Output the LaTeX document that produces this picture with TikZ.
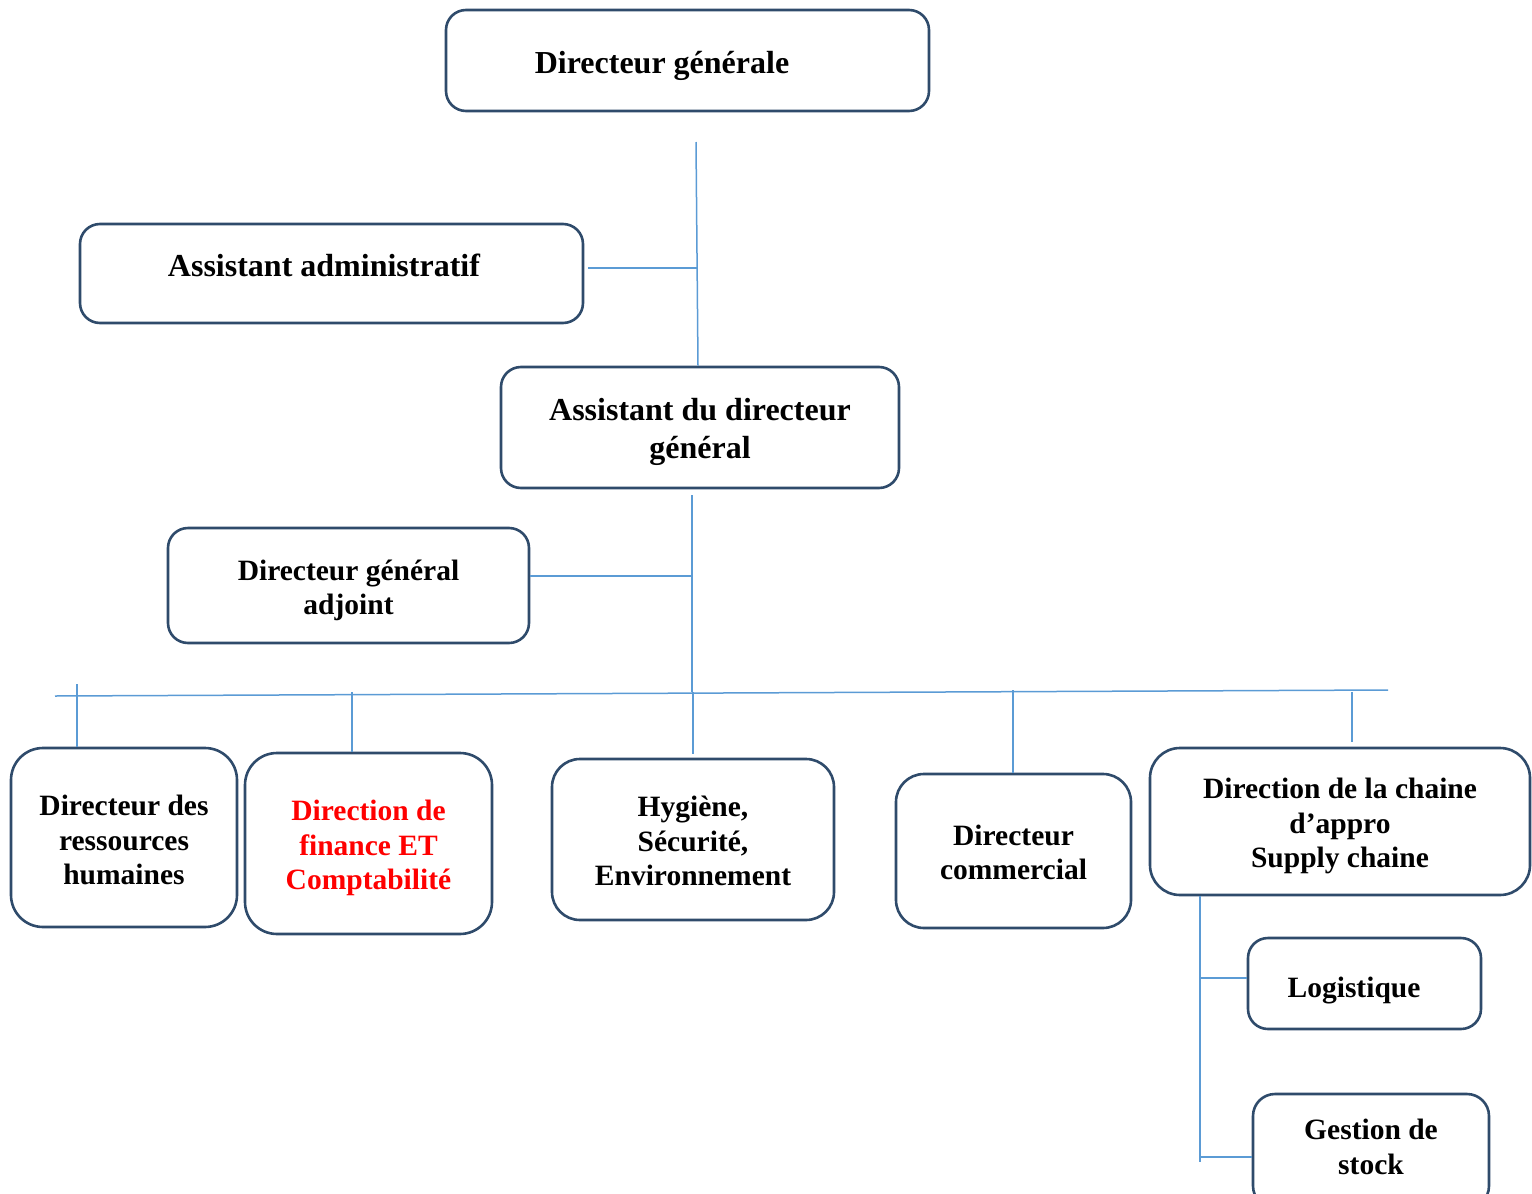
\documentclass[tikz,border=0pt]{standalone}
\usepackage{fontspec}
\setmainfont{Liberation Serif}
\definecolor{boxc}{HTML}{2F4B6B}
\definecolor{linec}{HTML}{5B9BD5}
\begin{document}
\begin{tikzpicture}[x=1pt,y=-1pt,
  box/.style={draw=boxc, line width=2.6pt, rounded corners=20pt, fill=white, inner sep=0pt},
  big/.style={inner sep=0pt, align=center, font=\bfseries\fontsize{32}{38}\selectfont},
  small/.style={inner sep=0pt, align=center, font=\bfseries\fontsize{29.5}{34.5}\selectfont},
  conn/.style={draw=linec, line width=1.5pt}]
\useasboundingbox (0,0) rectangle (1532,1194);
\clip (0,0) rectangle (1532,1194);

% boxes
\node[box, minimum width=483pt, minimum height=101pt] (dg) at (687.5,60.5) {};
\node[big] (dgt) at (662,66) {Directeur générale};

\node[box, minimum width=503pt, minimum height=99pt] (aa) at (331.5,273.5) {};
\node[big] (aat) at (324,265) {Assistant administratif};

\node[box, minimum width=398pt, minimum height=121pt] (adg) at (700,427.5) {};
\node[big] (adgt) at (700,432) {Assistant du directeur\\général};

\node[box, minimum width=361pt, minimum height=115pt] (dga) at (348.5,585.5) {};
\node[small] (dgat) at (348.5,590.5) {Directeur général\\adjoint};

\node[box, rounded corners=32pt, minimum width=226pt, minimum height=179pt] (drh) at (124,837.5) {};
\node[small] (drht) at (124,840) {Directeur des\\ressources\\humaines};

\node[box, rounded corners=32pt, minimum width=247pt, minimum height=181pt] (dfc) at (368.5,843.5) {};
\node[small, text=red] (dfct) at (368.5,848) {Direction de\\finance ET\\Comptabilité};

\node[box, rounded corners=28pt, minimum width=282pt, minimum height=161pt] (hse) at (693,839.5) {};
\node[small] (hset) at (693,841) {Hygiène,\\Sécurité,\\Environnement};

\node[box, rounded corners=28pt, minimum width=235pt, minimum height=154pt] (dc) at (1013.5,851) {};
\node[small] (dct) at (1013.5,852.5) {Directeur\\commercial};

\node[box, rounded corners=30pt, minimum width=380pt, minimum height=147pt] (dsc) at (1340,821.5) {};
\node[small] (dsct) at (1340,826) {Direction de la chaine\\d’appro\\Supply chaine};

\node[box, rounded corners=20pt, minimum width=233pt, minimum height=91pt] (log) at (1364.5,983.5) {};
\node[small] (logt) at (1354,991) {Logistique};

\node[box, rounded corners=22pt, minimum width=236pt, minimum height=114pt] (gs) at (1371,1151) {};
\node[small] (gst) at (1371,1147) {Gestion de\\stock};

% connectors
\coordinate (c1) at (696,142);
\coordinate (j1) at (697,268);
\draw[conn] (c1) -- (adg.north -| 698,0);
\draw[conn] ([xshift=4pt]aa.east |- j1) -- (j1);

\coordinate (c2) at (692,495);
\coordinate (j2) at (692,576);
\coordinate (bus) at (692,692);
\draw[conn] (c2) -- (bus);
\draw[conn] (dga.east |- j2) -- (j2);

\coordinate (busL) at (55,696);
\coordinate (busR) at (1388,690);
\draw[conn] (busL) -- (busR);

\coordinate (d1) at (77,684);
\coordinate (d2) at (352,692);
\coordinate (d3) at (693,692);
\coordinate (d4) at (1013,690);
\coordinate (d5) at (1352,692);
\draw[conn] (d1) -- (d1 |- drh.north);
\draw[conn] (d2) -- (d2 |- dfc.north);
\draw[conn] (d3) -- ([yshift=4pt]d3 |- hse.north);
\draw[conn] (d4) -- (d4 |- dc.north);
\draw[conn] (d5) -- ([yshift=5pt]d5 |- dsc.north);

\coordinate (s1) at (1200,978);
\coordinate (s2) at (1200,1157);
\coordinate (send) at (1200,1162);
\draw[conn] (dsc.south -| s1) -- (send);
\draw[conn] (s1) -- (s1 -| log.west);
\draw[conn] (s2) -- (s2 -| gs.west);
\end{tikzpicture}
\end{document}
